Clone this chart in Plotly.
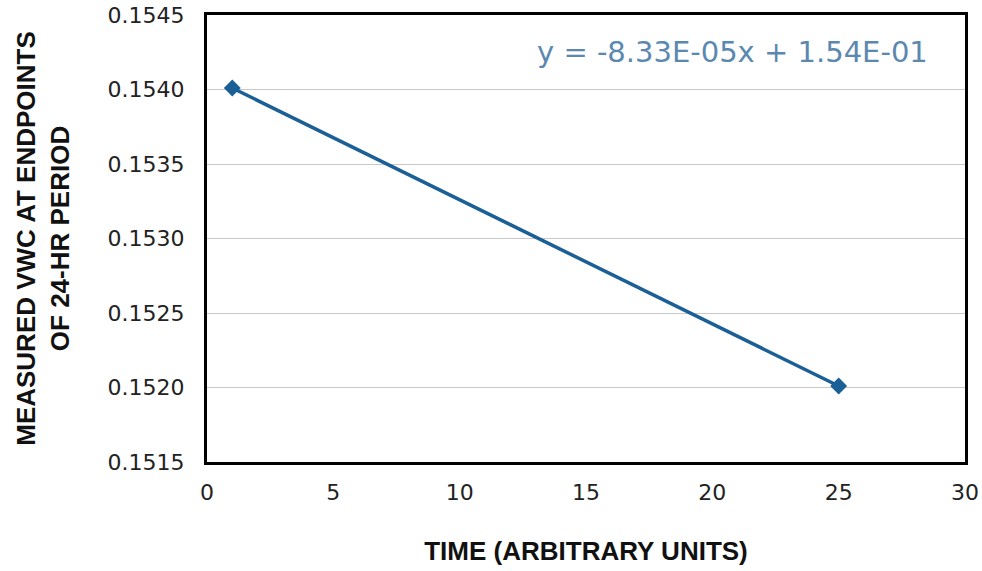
import plotly.graph_objects as go

time_x = [1, 25]
vwc_y = [0.15401, 0.15201]
x_ticks = [0, 5, 10, 15, 20, 25, 30]
y_ticks = [0.1515, 0.1520, 0.1525, 0.1530, 0.1535, 0.1540, 0.1545]
y_tick_labels = ["0.1515", "0.1520", "0.1525", "0.1530", "0.1535", "0.1540", "0.1545"]
equation = "y = -8.33E-05x + 1.54E-01"

fig = go.Figure()
fig.add_trace(go.Scatter(
    x=time_x, y=vwc_y, mode="lines+markers",
    line=dict(color="#1b5f97", width=3.5),
    marker=dict(symbol="diamond", size=13, color="#1b5f97"),
    showlegend=False,
))

fig.add_annotation(
    x=0.954, y=0.917, xref="paper", yref="paper", xanchor="right", yanchor="middle",
    text=equation, showarrow=False,
    font=dict(family="DejaVu Sans", size=29, color="#5b88b0"),
)

fig.update_xaxes(
    range=[0, 30], tickvals=x_ticks, showgrid=False, zeroline=False,
    showline=True, linecolor="black", linewidth=3, mirror=True, automargin=False,
    ticks="", ticklabelstandoff=9, tickfont=dict(family="DejaVu Sans", size=22, color="#222"),
    title=dict(text="<b>TIME (ARBITRARY UNITS)</b>", standoff=38,
               font=dict(family="Liberation Sans", size=26, color="#111")),
)
fig.update_yaxes(
    range=[0.1515, 0.1545], tickvals=y_ticks, ticktext=y_tick_labels,
    showgrid=True, gridcolor="#c8c8c8", gridwidth=1, zeroline=False,
    showline=True, linecolor="black", linewidth=3, mirror=True, automargin=False,
    ticks="", ticklabelstandoff=15, tickfont=dict(family="DejaVu Sans", size=22, color="#222"),
    title=dict(text="<b>MEASURED VWC AT ENDPOINTS<br>OF 24-HR PERIOD</b>", standoff=31,
               font=dict(family="Liberation Sans", size=26, color="#111")),
)

fig.update_layout(
    width=982, height=571,
    margin=dict(l=207, r=17, t=15, b=109),
    plot_bgcolor="white", paper_bgcolor="white",
)

fig.write_html("out.html")
